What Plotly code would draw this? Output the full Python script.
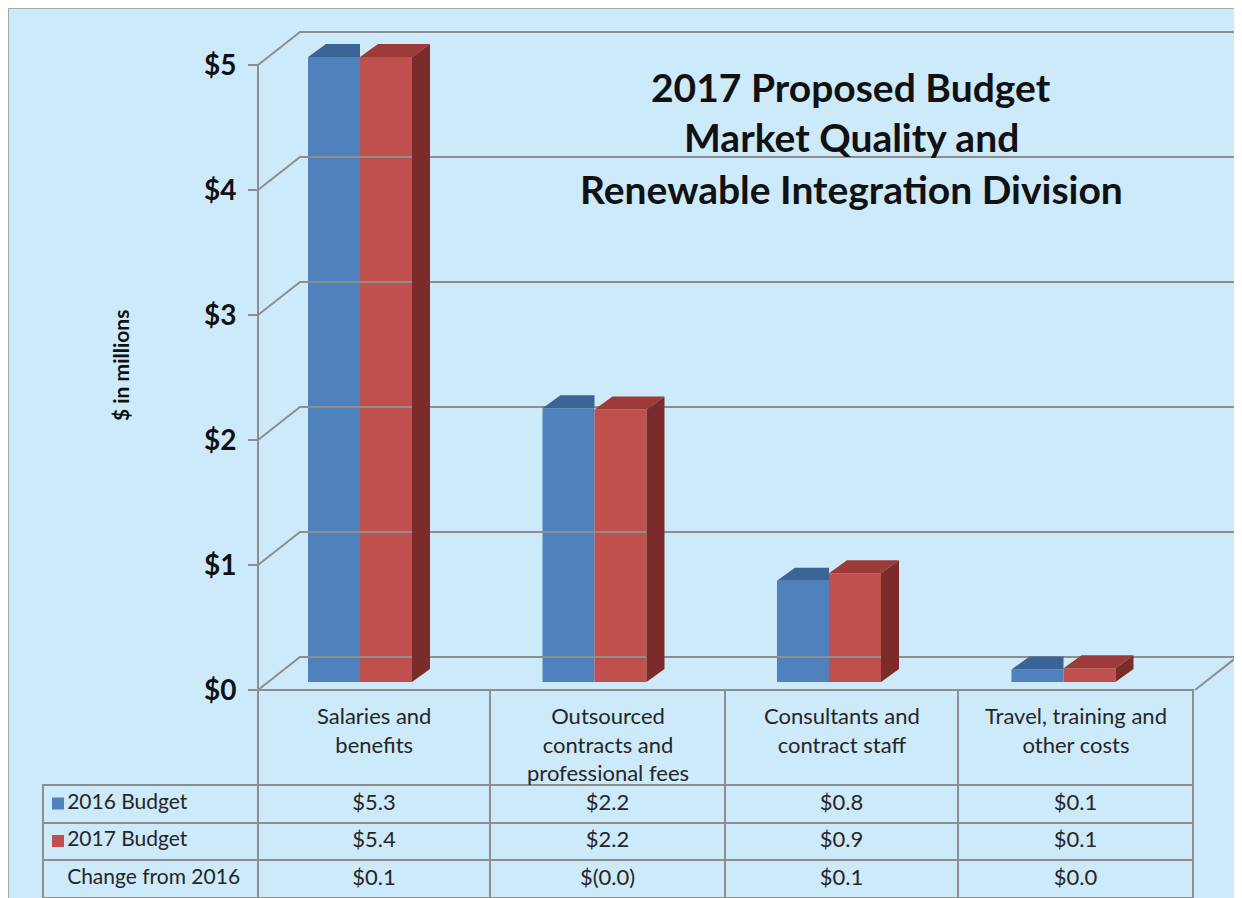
import plotly.graph_objects as go

# ---------------- data ----------------
categories = ["Salaries and<br>benefits",
              "Outsourced<br>contracts and<br>professional fees",
              "Consultants and<br>contract staff",
              "Travel, training and<br>other costs"]
budget_2016 = [5.33, 2.19, 0.81, 0.10]
budget_2017 = [5.41, 2.18, 0.87, 0.11]
series_names = ["2016 Budget", "2017 Budget"]
change_label = "Change from 2016"
y_ticks = [0, 1, 2, 3, 4, 5]
y_tick_labels = ["$0", "$1", "$2", "$3", "$4", "$5"]
title_lines = ["2017 Proposed Budget", "Market Quality and", "Renewable Integration Division"]
y_title = "$ in millions"

# ---------------- styling / geometry ----------------
OFF = 8                         # browser body margin
W, H = 1242 - OFF, 898 - OFF    # figure size
BG = "#CDEAFB"
GRID = "#8E8E8E"
TXT = "#262626"
BLUE, BLUE_TOP = "#4F81BD", "#3B6496"
RED, RED_TOP, RED_SIDE = "#C0504D", "#9C3B38", "#7B2C2A"
FONT = "Lato"

def PX(px):   # page px -> paper x
    return (px - OFF) / W

def PY(py):   # page px -> paper y
    return 1 - (py - OFF) / H

PX_CAT = 234.5          # px per category
C0 = 360.0              # page px of first category centre
PX_Y = 125.0            # px per $1M
Y0 = 690.0              # page px of $0 on front plane
YMAX = 5

def xd(px):  # page pixel -> x data
    return (px - C0) / PX_CAT

bar_w = 52 / PX_CAT
ddx, ddy = 18 / PX_CAT, 13 / PX_Y        # bar depth
base = 8 / PX_Y                          # bars sit slightly behind front plane
DX, DY = 42 / PX_CAT, 33 / PX_Y          # wall depth
xa, xR, xF = xd(258), xd(1237), xd(1195)

xs = list(range(len(categories)))
h16 = [min(v, YMAX) for v in budget_2016]
h17 = [min(v, YMAX) for v in budget_2017]
change = [b - a for a, b in zip(budget_2016, budget_2017)]

def fmt(v):
    return f"${v:.1f}" if v >= 0 else f"$({abs(v):.1f})"

fig = go.Figure()

# back-wall gridlines + floor
gx, gy = [], []
for t in y_ticks:
    gx += [xa, xa + DX, xR, None]
    gy += [t, t + DY, t + DY, None]
gx += [xF, xR, None]
gy += [0, DY, None]
fig.add_trace(go.Scatter(x=gx, y=gy, mode="lines", line=dict(color=GRID, width=2),
                         hoverinfo="skip", showlegend=False))
# front y-axis line
fig.add_trace(go.Scatter(x=[xa, xa], y=[0, YMAX], mode="lines",
                         line=dict(color=GRID, width=2), hoverinfo="skip", showlegend=False))

# bar front faces
fig.add_trace(go.Bar(x=xs, y=h16, base=base, width=bar_w, offset=-bar_w,
                     marker=dict(color=BLUE, line=dict(width=0)), name=series_names[0],
                     showlegend=False))
fig.add_trace(go.Bar(x=xs, y=h17, base=base, width=bar_w, offset=0,
                     marker=dict(color=RED, line=dict(width=0)), name=series_names[1],
                     showlegend=False))

# tops and sides
bt_x, bt_y, rt_x, rt_y, rs_x, rs_y = [], [], [], [], [], []
for c, a, b in zip(xs, h16, h17):
    ta, tb = base + a, base + b
    bt_x += [c - bar_w, c - bar_w + ddx, c, c, None]
    bt_y += [ta, ta + ddy, ta + ddy, ta, None]
    rt_x += [c, c + ddx, c + bar_w + ddx, c + bar_w, c, None]
    rt_y += [tb, tb + ddy, tb + ddy, tb, tb, None]
    rs_x += [c + bar_w, c + bar_w + ddx, c + bar_w + ddx, c + bar_w, c + bar_w, None]
    rs_y += [base, base + ddy, tb + ddy, tb, base, None]
for px_, py_, col in [(bt_x, bt_y, BLUE_TOP), (rt_x, rt_y, RED_TOP), (rs_x, rs_y, RED_SIDE)]:
    fig.add_trace(go.Scatter(x=px_, y=py_, mode="lines", fill="toself", fillcolor=col,
                             line=dict(width=0, color=col), hoverinfo="skip", showlegend=False))

# data table
col_edges = [43, 258, 490, 725, 958, 1193]        # page px
col_w = [b - a for a, b in zip(col_edges[:-1], col_edges[1:])]
pad = "\u00a0" * 3
row_labels = [pad + series_names[0], pad + series_names[1], pad + change_label]
cols = [row_labels]
for i in xs:
    cols.append([fmt(budget_2016[i]), fmt(budget_2017[i]), fmt(change[i])])
CLEAR = "rgba(0,0,0,0)"
fig.add_trace(go.Table(
    domain=dict(x=[PX(col_edges[0]), PX(col_edges[-1])], y=[0, PY(Y0)]),
    columnwidth=col_w,
    header=dict(values=[""] * 5, height=95, align="center",
                fill=dict(color=CLEAR),
                line=dict(color=[CLEAR] + [GRID] * 4, width=2),
                font=dict(family=FONT, size=21, color=TXT)),
    cells=dict(values=cols, height=37.5, align=["left"] + ["center"] * 4,
               fill=dict(color=CLEAR), line=dict(color=GRID, width=2),
               font=dict(family=FONT, size=[21, 22, 22, 22, 22], color=TXT)),
))

anns = []
# category labels (table header)
for i, cat in enumerate(categories):
    cx = (col_edges[i + 1] + col_edges[i + 2]) / 2
    anns.append(dict(text=cat, x=PX(cx), y=PY(700), xref="paper", yref="paper",
                     xanchor="center", yanchor="top", align="center", showarrow=False,
                     font=dict(family=FONT, size=22, color=TXT)))

# legend keys in the row-label cells
shapes = [dict(type="rect", xref="paper", yref="paper", x0=0, x1=1.05, y0=-0.05, y1=1,
               fillcolor=BG, line=dict(color="#A8A8A8", width=2), layer="below")]
for col, cy in [(BLUE, 803.5), (RED, 841)]:
    shapes.append(dict(type="rect", xref="paper", yref="paper",
                       x0=PX(52), x1=PX(64), y0=PY(cy + 6), y1=PY(cy - 6),
                       fillcolor=col, line=dict(width=0), layer="above"))

# titles
title_y = [87, 137, 189]
for t, yy in zip(title_lines, title_y):
    anns.append(dict(text=f"<b>{t}</b>", x=PX(851), y=PY(yy), xref="paper", yref="paper",
                     xanchor="center", yanchor="middle", showarrow=False,
                     font=dict(family=FONT, size=39, color="#111111")))
anns.append(dict(text=f"<b>{y_title}</b>", x=PX(120), y=PY(366), xref="paper", yref="paper",
                 textangle=-90, xanchor="center", yanchor="middle", showarrow=False,
                 font=dict(family=FONT, size=21, color="#111111")))

fig.update_layout(
    width=W, height=H, margin=dict(l=0, r=0, t=0, b=0),
    paper_bgcolor=BG, plot_bgcolor=CLEAR,
    barmode="overlay", showlegend=False, annotations=anns, shapes=shapes,
    xaxis=dict(range=[xd(OFF), xd(1242)], domain=[0, 1], visible=False, fixedrange=True),
    yaxis=dict(range=[(Y0 - 898) / PX_Y, (Y0 - OFF) / PX_Y], domain=[0, 1], anchor="free",
               position=PX(258), tickvals=y_ticks, ticktext=y_tick_labels,
               ticks="outside", ticklen=10, tickwidth=2, tickcolor=GRID,
               ticklabelstandoff=6,
               showgrid=False, zeroline=False, showline=False,
               tickfont=dict(family=FONT, size=28, color="#111111", weight="bold"),
               fixedrange=True),
)

fig.write_html("out.html")
